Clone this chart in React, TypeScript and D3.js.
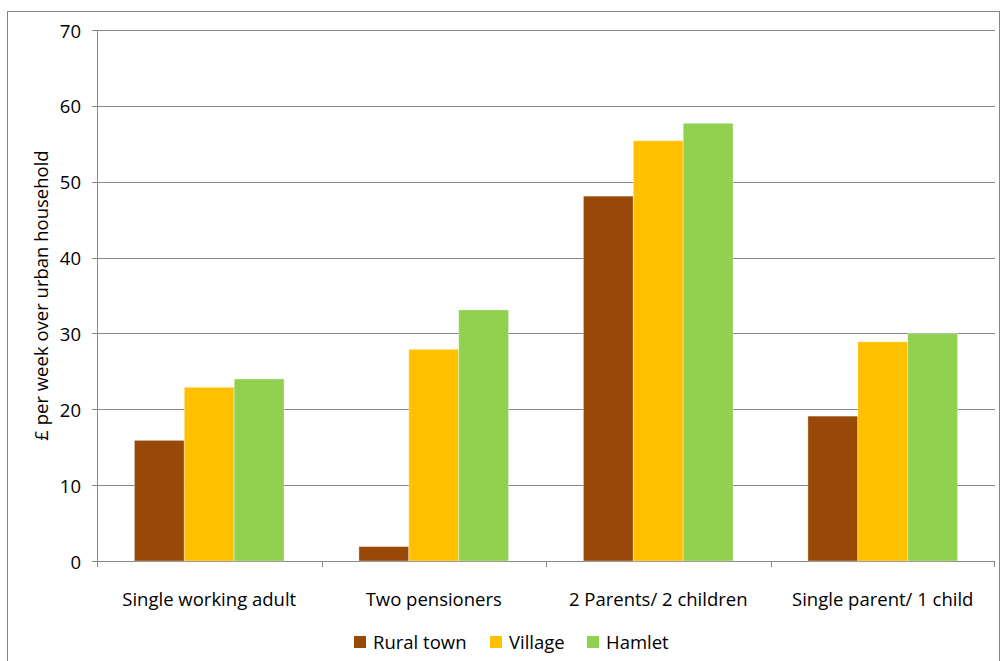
import React from "react";
import * as d3 from "d3";

const categories = ["Single working adult", "Two pensioners", "2 Parents/ 2 children", "Single parent/ 1 child"];
const seriesNames = ["Rural town", "Village", "Hamlet"];
const ruralTown = [15.9, 1.9, 48.1, 19.1];
const village = [22.9, 27.9, 55.4, 28.9];
const hamlet = [24, 33.1, 57.7, 30];
const yTicks = [0, 10, 20, 30, 40, 50, 60, 70];
const colors = ["#984807", "#FFC000", "#92D050"];

const W = 1000, H = 661;
const left = 97, right = 995, top = 30, bottom = 561;
const font = "'Open Sans', sans-serif";
const fs = 18.5;

export default function App() {
  const series = [ruralTown, village, hamlet];
  const x = d3.scaleBand<string>().domain(categories).range([left, right]).paddingInner(0).paddingOuter(0);
  const inner = d3.scaleBand<string>().domain(seriesNames).range([0, x.bandwidth()]).paddingInner(0).paddingOuter(0.75);
  const y = d3.scaleLinear().domain([0, 70]).range([bottom, top]);

  return (
    <svg width={W} height={H} style={{ position: "absolute", left: 0, top: 0, display: "block" }}>
      <rect x={0} y={0} width={W} height={H} fill="#fff" />
      <rect x={7.5} y={11.5} width={992} height={660} fill="none" stroke="#868686" strokeWidth={1} />
      {yTicks.map((t) => (
        <g key={t}>
          <line x1={left} x2={right} y1={Math.round(y(t)) + 0.5} y2={Math.round(y(t)) + 0.5} stroke="#868686" strokeWidth={1} />
          <line x1={left - 5} x2={left} y1={Math.round(y(t)) + 0.5} y2={Math.round(y(t)) + 0.5} stroke="#868686" />
          <text x={81} y={y(t)} textAnchor="end" dominantBaseline="central" fontFamily={font} fontSize={fs} fill="#000">{t}</text>
        </g>
      ))}
      <line x1={left + 0.5} x2={left + 0.5} y1={top} y2={bottom} stroke="#868686" />
      {categories.map((c, i) => (
        <line key={"tk" + i} x1={Math.round(x(c)!) + 0.5} x2={Math.round(x(c)!) + 0.5} y1={bottom} y2={bottom + 6} stroke="#868686" />
      ))}
      <line x1={right - 0.5} x2={right - 0.5} y1={bottom} y2={bottom + 6} stroke="#868686" />
      {series.map((vals, s) =>
        vals.map((v, i) => (
          <rect
            key={s + "-" + i}
            x={x(categories[i])! + inner(seriesNames[s])!}
            y={y(v)}
            width={inner.bandwidth()}
            height={y(0) - y(v)}
            fill={colors[s]}
            stroke="rgba(255,255,255,0.35)"
            strokeWidth={1}
          />
        ))
      )}
      {categories.map((c) => (
        <text key={c} x={x(c)! + x.bandwidth() / 2} y={598} textAnchor="middle" dominantBaseline="central" fontFamily={font} fontSize={fs} fill="#000">{c}</text>
      ))}
      <text transform={`translate(40, ${(top + bottom) / 2}) rotate(-90)`} textAnchor="middle" dominantBaseline="central" fontFamily={font} fontSize={fs} fill="#000">£ per week over urban household</text>
      {seriesNames.map((n, s) => {
        const lx = [354, 490, 587][s];
        return (
          <g key={n}>
            <rect x={lx} y={636} width={12} height={12} fill={colors[s]} />
            <text x={lx + 19} y={641} dominantBaseline="central" fontFamily={font} fontSize={fs} fill="#000">{n}</text>
          </g>
        );
      })}
    </svg>
  );
}
